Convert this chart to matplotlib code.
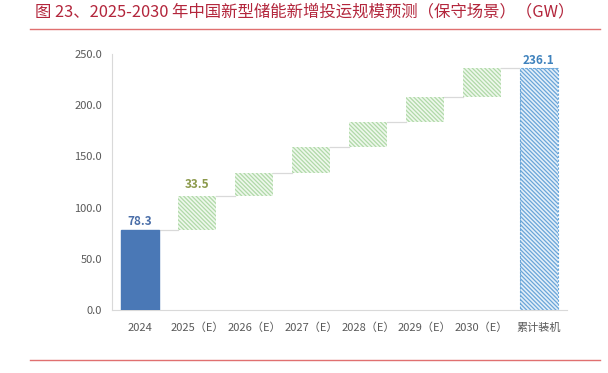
import matplotlib
matplotlib.use("Agg")
import matplotlib.pyplot as plt
from matplotlib.lines import Line2D
import numpy as np

plt.rcParams['font.family'] = ['Noto Sans CJK SC', 'DejaVu Sans']
plt.rcParams['hatch.linewidth'] = 0.9

title = "图 23、2025-2030 年中国新型储能新增投运规模预测（保守场景）（GW）"
categories = ['2024', '2025（E）', '2026（E）', '2027（E）', '2028（E）',
              '2029（E）', '2030（E）', '累计装机']
base_value = 78.3
increments = [33.5, 22.5, 24.8, 24.8, 24.5, 27.7]
total_value = 236.1
yticks = [0, 50, 100, 150, 200, 250]

fig = plt.figure(figsize=(6.08, 3.73), dpi=100)
ax = fig.add_axes([0.1837, 0.1684, 0.749, 0.6868])

x = np.arange(len(categories))
w = 0.67

inc_bottoms = base_value + np.concatenate([[0], np.cumsum(increments)[:-1]])
inc_tops = inc_bottoms + np.array(increments)

# base bar
ax.bar(x[0], base_value, width=w, color='#4a78b6', edgecolor='#4a78b6', zorder=3)

# increments (hatched green)
ax.bar(x[1:7], increments, bottom=inc_bottoms, width=w, color='#eef8ec',
       edgecolor='#b0d9a8', linewidth=0, hatch='\\\\\\\\\\\\\\\\', zorder=3)

# total bar (hatched blue, dashed edge)
ax.bar(x[7], total_value, width=w, color='#e3eff9', edgecolor='#6aa5d8',
       linewidth=0, hatch='\\\\\\\\\\\\\\\\', zorder=3)
ax.bar(x[7], total_value, width=w, fill=False, edgecolor='#6aa6d8',
       linewidth=0.8, linestyle=(0, (2, 1.5)), zorder=4)

# connector lines
levels = [base_value] + list(inc_tops)
for i, lv in enumerate(levels):
    ax.plot([x[i] + w / 2, x[i + 1] - w / 2], [lv, lv], color='#d9d9d9',
            linewidth=0.9, zorder=2)

# labels
ax.text(x[0], base_value + 2, f"{base_value:.1f}", ha='center', va='bottom',
        fontsize=8.5, color='#4a6ea8', fontweight='bold')
ax.text(x[1], inc_tops[0] + 5, f"{increments[0]:.1f}", ha='center', va='bottom',
        fontsize=8.5, color='#8c9a4c', fontweight='bold')
ax.text(x[7], total_value + 1, f"{total_value:.1f}", ha='center', va='bottom',
        fontsize=8.5, color='#3f82bd', fontweight='bold')

ax.set_xlim(-0.5, 7.5)
ax.set_ylim(0, 250)
ax.set_yticks(yticks)
ax.set_yticklabels([f"{v:.1f}" for v in yticks])
ax.set_xticks(x)
ax.set_xticklabels(categories)
ax.tick_params(axis='both', length=0, labelsize=8, colors='#595959')
ax.tick_params(axis='y', pad=7)
ax.tick_params(axis='x', pad=9)
for s in ['top', 'right']:
    ax.spines[s].set_visible(False)
for s in ['left', 'bottom']:
    ax.spines[s].set_color('#d9d9d9')
    ax.spines[s].set_linewidth(0.8)

# title and rules
fig.text(35 / 608, 1 - 12 / 373, title, ha='left', va='center', fontsize=11.8,
         color='#b3263c')
fig.add_artist(Line2D([30 / 608, 600 / 608], [1 - 29 / 373, 1 - 29 / 373],
                      color='#e07070', linewidth=1.0))
fig.add_artist(Line2D([30 / 608, 600 / 608], [1 - 360 / 373, 1 - 360 / 373],
                      color='#e07070', linewidth=1.0))

fig.savefig('out.png', dpi=100)
